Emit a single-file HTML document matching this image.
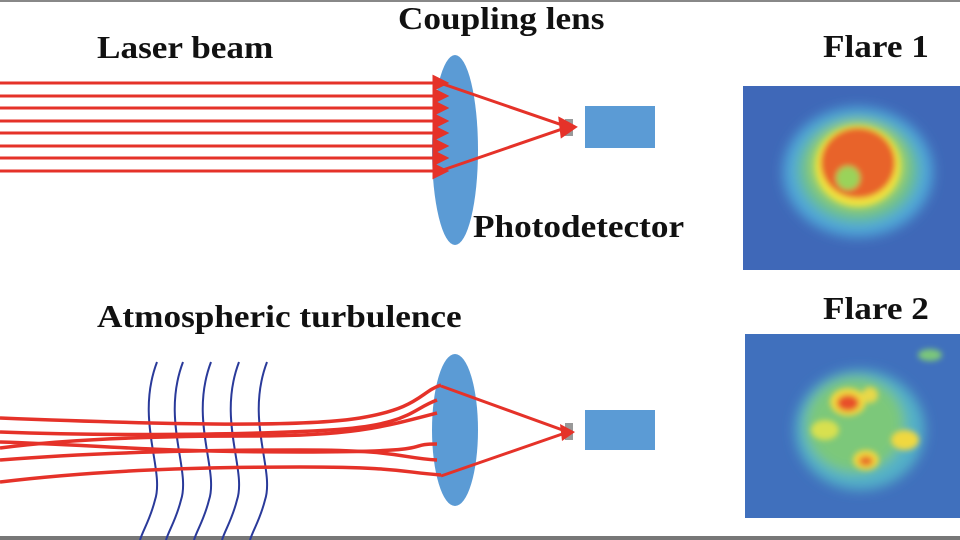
<!DOCTYPE html>
<html><head><meta charset="utf-8"><style>
html,body{margin:0;padding:0;background:#fff;}
body{width:960px;height:540px;overflow:hidden;position:relative;}
.t{position:absolute;font-family:"Liberation Serif",serif;font-weight:bold;font-size:32px;color:#111;white-space:nowrap;line-height:1;transform:scaleX(1.1);transform-origin:0 0;}
</style></head><body>
<div style="position:absolute;left:0;top:0;width:960px;height:2px;background:#888"></div>
<div style="position:absolute;left:0;top:536px;width:960px;height:4px;background:#777"></div>
<div class="t" style="left:97px;top:31px">Laser beam</div>
<div class="t" style="left:398px;top:2px">Coupling lens</div>
<div class="t" style="left:473px;top:210px">Photodetector</div>
<div class="t" style="left:97px;top:300px">Atmospheric turbulence</div>
<div class="t" style="left:823px;top:30px">Flare 1</div>
<div class="t" style="left:823px;top:292px">Flare 2</div>
<svg width="960" height="540" style="position:absolute;left:0;top:0">
<defs>
<filter id="bl" x="-20%" y="-20%" width="140%" height="140%"><feGaussianBlur stdDeviation="6"/></filter>
<filter id="bl2"><feGaussianBlur stdDeviation="3"/></filter>
<clipPath id="c1"><rect x="743" y="86" width="217" height="184"/></clipPath>
<clipPath id="c2"><rect x="745" y="334" width="215" height="184"/></clipPath>
</defs>
<ellipse cx="455" cy="150" rx="23" ry="95" fill="#5b9bd5"/>
<ellipse cx="455" cy="430" rx="23" ry="76" fill="#5b9bd5"/>
<rect x="565" y="119" width="8" height="17" fill="#999"/>
<rect x="585" y="106" width="70" height="42" fill="#5b9bd5"/>
<rect x="565" y="423" width="8" height="17" fill="#999"/>
<rect x="585" y="410" width="70" height="40" fill="#5b9bd5"/>
<g stroke="#e53229" stroke-width="3" fill="#e53229">
<line x1="0" y1="83" x2="436" y2="83"/><polygon points="434,77 446,83 434,89"/>
<line x1="0" y1="96" x2="436" y2="96"/><polygon points="434,90 446,96 434,102"/>
<line x1="0" y1="108" x2="436" y2="108"/><polygon points="434,102 446,108 434,114"/>
<line x1="0" y1="121" x2="436" y2="121"/><polygon points="434,115 446,121 434,127"/>
<line x1="0" y1="133" x2="436" y2="133"/><polygon points="434,127 446,133 434,139"/>
<line x1="0" y1="146" x2="436" y2="146"/><polygon points="434,140 446,146 434,152"/>
<line x1="0" y1="158" x2="436" y2="158"/><polygon points="434,152 446,158 434,164"/>
<line x1="0" y1="171" x2="436" y2="171"/><polygon points="434,165 446,171 434,177"/>
<polyline points="440,83 568,127 440,171" fill="none"/>
<polygon points="560,119 575,127 562,136"/>
</g>
<g stroke="#2a3a9a" stroke-width="2" fill="none">
<path d="M157,362 C135,420 165,470 155,500 C150,520 143,530 140,540"/>
<path d="M183,362 C161,420 191,470 181,500 C176,520 169,530 166,540"/>
<path d="M211,362 C189,420 219,470 209,500 C204,520 197,530 194,540"/>
<path d="M239,362 C217,420 247,470 237,500 C232,520 225,530 222,540"/>
<path d="M267,362 C245,420 275,470 265,500 C260,520 253,530 250,540"/>
</g>
<g stroke="#e53229" stroke-width="3.5" fill="none">
<path d="M0,418 C150,424 300,428 360,418 S420,392 441,385"/>
<path d="M0,432 C100,436 250,435 330,430 S410,410 437,400"/>
<path d="M0,448 C60,440 150,436 250,436 S380,428 437,413"/>
<path d="M0,442 C100,445 150,452 300,452 S400,444 437,444"/>
<path d="M0,460 C100,452 200,450 300,450 S400,458 437,460"/>
<path d="M0,482 C100,470 200,467 300,467 S400,472 441,475"/>
<polyline points="441,386 568,432 441,476" stroke-width="3"/>
</g>
<polygon points="560,424 575,432 562,441" fill="#e53229"/>
<g clip-path="url(#c1)">
<rect x="743" y="86" width="217" height="184" fill="#3f68b8"/>
<g filter="url(#bl)">
<ellipse cx="858" cy="172" rx="75" ry="65" fill="#4fa7d8"/>
<ellipse cx="858" cy="170" rx="60" ry="52" fill="#6cc08a"/>
<ellipse cx="858" cy="166" rx="46" ry="42" fill="#b8dc4a"/>
</g>
<g filter="url(#bl2)">
<ellipse cx="858" cy="166" rx="42" ry="40" fill="#f0e040"/>
<ellipse cx="858" cy="163" rx="37" ry="35" fill="#e8642a"/>
<ellipse cx="848" cy="178" rx="12" ry="12" fill="#9ad35a"/>
</g>
</g>
<g clip-path="url(#c2)">
<rect x="745" y="334" width="215" height="184" fill="#4070bd"/>
<g filter="url(#bl)">
<ellipse cx="860" cy="430" rx="65" ry="60" fill="#52b0c8"/>
<ellipse cx="855" cy="425" rx="50" ry="48" fill="#7cc87a"/>
</g>
<g filter="url(#bl2)">
<ellipse cx="848" cy="402" rx="18" ry="14" fill="#f0d840"/>
<ellipse cx="848" cy="403" rx="11" ry="8" fill="#e8502a"/>
<ellipse cx="866" cy="460" rx="13" ry="10" fill="#f0d840"/>
<ellipse cx="866" cy="461" rx="7" ry="5" fill="#e8702a"/>
<ellipse cx="905" cy="440" rx="14" ry="10" fill="#f0d840"/>
<ellipse cx="825" cy="430" rx="14" ry="10" fill="#d8e050"/>
<ellipse cx="870" cy="395" rx="8" ry="8" fill="#e8d848"/>
<ellipse cx="930" cy="355" rx="12" ry="6" fill="#7cc87a"/>
</g>
</g>
</svg>
</body></html>
